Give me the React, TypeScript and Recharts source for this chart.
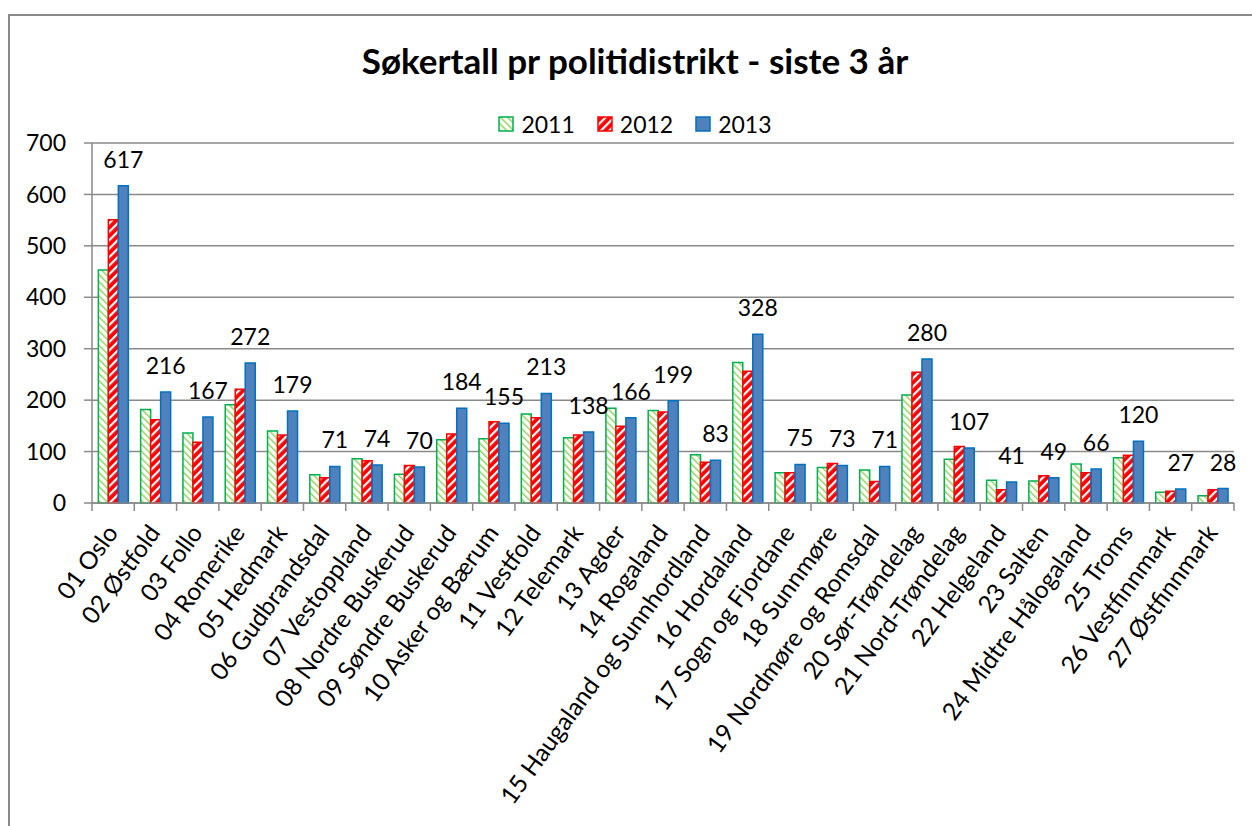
import * as React from "react";
import { BarChart, Bar, XAxis, YAxis, CartesianGrid, LabelList } from "recharts";

const categories = [
  "01 Oslo", "02 Østfold", "03 Follo", "04 Romerike", "05 Hedmark", "06 Gudbrandsdal",
  "07 Vestoppland", "08 Nordre Buskerud", "09 Søndre Buskerud", "10 Asker og Bærum",
  "11 Vestfold", "12 Telemark", "13 Agder", "14 Rogaland", "15 Haugaland og Sunnhordland",
  "16 Hordaland", "17 Sogn og Fjordane", "18 Sunnmøre", "19 Nordmøre og Romsdal",
  "20 Sør-Trøndelag", "21 Nord-Trøndelag", "22 Helgeland", "23 Salten",
  "24 Midtre Hålogaland", "25 Troms", "26 Vestfinnmark", "27 Østfinnmark",
];

const v2011 = [453, 182, 136, 191, 140, 55, 86, 56, 123, 125, 173, 127, 184, 180, 94, 273, 59, 69, 64, 210, 85, 44, 43, 76, 88, 21, 14];
const v2012 = [551, 162, 118, 221, 132, 49, 82, 73, 134, 158, 166, 132, 149, 177, 79, 256, 59, 77, 42, 254, 110, 26, 53, 59, 93, 23, 26];
const v2013 = [617, 216, 167, 272, 179, 71, 74, 70, 184, 155, 213, 138, 166, 199, 83, 328, 75, 73, 71, 280, 107, 41, 49, 66, 120, 27, 28];

const yTicks = [0, 100, 200, 300, 400, 500, 600, 700];
const title = "Søkertall pr politidistrikt - siste 3 år";

const FONT = "Lato, 'Open Sans', sans-serif";
const GRAY = "#8a8a8a";

const data = categories.map((name, i) => ({
  name,
  y2011: v2011[i],
  y2012: v2012[i],
  y2013: v2013[i],
}));

const seriesInfo = [
  { key: "y2011", label: "2011", fill: "url(#p2011)", stroke: "#00B050" },
  { key: "y2012", label: "2012", fill: "url(#p2012)", stroke: "#FF0000" },
  { key: "y2013", label: "2013", fill: "#4F81BD", stroke: "#0070C0" },
];

function XTick(props: any) {
  const { x, y, payload, index } = props;
  const half = payload?.offset ?? 21;
  return (
    <g>
      <line x1={x - half} x2={x - half} y1={y} y2={y + 8} stroke={GRAY} strokeWidth={1.5} />
      {index === categories.length - 1 && (
        <line x1={x + half} x2={x + half} y1={y} y2={y + 8} stroke={GRAY} strokeWidth={1.5} />
      )}
      <text
        x={0}
        y={0}
        transform={`translate(${x + 6},${y + 30}) rotate(-54)`}
        textAnchor="end"
        fontSize={24.5}
        fontFamily={FONT}
        fill="#000"
      >
        {payload.value}
      </text>
    </g>
  );
}

function LegendBox() {
  return (
    <div style={{ display: "flex", justifyContent: "center", gap: 22, fontFamily: FONT, fontSize: 23 }}>
      {seriesInfo.map((s) => (
        <span key={s.key} style={{ display: "inline-flex", alignItems: "center", gap: 7 }}>
          <svg width={16} height={16}>
            <rect x={1} y={1} width={14} height={14} fill={s.fill} stroke={s.stroke} strokeWidth={1.5} />
          </svg>
          {s.label}
        </span>
      ))}
    </div>
  );
}

export default function App() {
  return (
    <div style={{ position: "absolute", left: 0, top: 0, width: 1252, height: 826, background: "#fff", overflow: "hidden" }}>
      <div
        style={{
          position: "absolute",
          left: 8,
          top: 14,
          width: 1300,
          height: 900,
          borderLeft: `2px solid ${GRAY}`,
          borderTop: `2px solid ${GRAY}`,
        }}
      />
      <div
        style={{
          position: "absolute",
          left: 0,
          width: 1270,
          top: 38,
          textAlign: "center",
          fontFamily: FONT,
          fontWeight: 700,
          fontSize: 35,
          lineHeight: "44px",
          color: "#000",
        }}
      >
        {title}
      </div>
      <div style={{ position: "absolute", left: 0, top: 0 }}>
        <BarChart
          width={1252}
          height={826}
          data={data}
          margin={{ top: 143, right: 18, bottom: 0, left: 0 }}
          barCategoryGap="15%"
          barGap={0}
        >
          <defs>
            <pattern id="p2011" width="5" height="5" patternUnits="userSpaceOnUse" patternTransform="rotate(-45)">
              <rect width="5" height="5" fill="#ffffff" />
              <rect width="1.6" height="5" fill="#9BD46A" />
            </pattern>
            <pattern id="p2012" width="6" height="6" patternUnits="userSpaceOnUse" patternTransform="rotate(45)">
              <rect width="6" height="6" fill="#FF0000" />
              <rect width="2.2" height="6" fill="#ffffff" />
            </pattern>
          </defs>
          <CartesianGrid vertical={false} stroke={GRAY} strokeWidth={1.5} />
          <XAxis
            dataKey="name"
            interval={0}
            height={323}
            stroke={GRAY}
            strokeWidth={1.5}
            tickLine={false}
            tickSize={0}
            tickMargin={0}
            tick={<XTick />}
          />
          <YAxis
            domain={[0, 700]}
            ticks={yTicks}
            width={92}
            stroke={GRAY}
            strokeWidth={1.5}
            tickSize={8}
            tickMargin={18}
            tick={{ fontSize: 23, fontFamily: FONT, fill: "#000" }}
            interval={0}
          />
          {seriesInfo.map((s) => (
            <Bar
              key={s.key}
              dataKey={s.key}
              name={s.label}
              fill={s.fill}
              stroke={s.stroke}
              strokeWidth={1.5}
              isAnimationActive={false}
            >
              {s.key === "y2013" && (
                <LabelList
                  dataKey={s.key}
                  position="top"
                  offset={18}
                  fontSize={23}
                  fontFamily={FONT}
                  fill="#000"
                />
              )}
            </Bar>
          ))}
        </BarChart>
      </div>
      <div style={{ position: "absolute", left: 0, top: 110, width: 1270 }}>
        <LegendBox />
      </div>
    </div>
  );
}
